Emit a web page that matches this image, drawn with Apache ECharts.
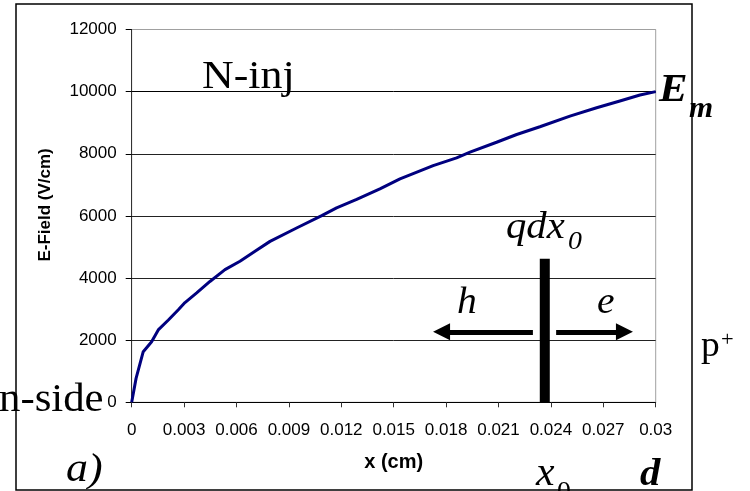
<!DOCTYPE html>
<html>
<head>
<meta charset="utf-8">
<style>
  html, body { margin: 0; padding: 0; background: #fff; }
  #chart { width: 750px; height: 491px; }
</style>
<script src="https://cdn.jsdelivr.net/npm/echarts@6/dist/echarts.min.js"></script>
</head>
<body>
<div id="chart"></div>
<script>
// Electric field across the depletion region, x in cm, E in V/cm
var positions = [0, 0.00025, 0.00066, 0.00114, 0.00152, 0.0021, 0.00267, 0.00305,
  0.00372, 0.00448, 0.00534, 0.0062, 0.00706, 0.00792, 0.00944, 0.01088, 0.01173,
  0.01288, 0.01421, 0.01536, 0.01726, 0.0186, 0.01937, 0.02089, 0.02204, 0.02337,
  0.02509, 0.02662, 0.02795, 0.0291, 0.03];
var fieldValues = [0, 770, 1630, 1950, 2330, 2650, 2980, 3210,
  3520, 3890, 4270, 4540, 4860, 5180, 5610, 6010, 6260,
  6530, 6870, 7190, 7620, 7870, 8050, 8370, 8620, 8870,
  9210, 9480, 9700, 9890, 10000];

// Charge sheet q dx0 at x0 and the drift directions of holes and electrons
var chargePosition = 0.02365;
var chargeBarTop = 4620;
var driftLevel = 2268;
var holeArrow = [0.02297, 0.01774];
var electronArrow = [0.0243, 0.02821];

var xTicks = { min: 0, max: 0.03, step: 0.003 };
var yTicks = { min: 0, max: 12000, step: 2000 };

var curve = positions.map(function (x, i) { return [x, fieldValues[i]]; });

var serif = '"Liberation Serif", "Times New Roman", serif';
var sans = '"Liberation Sans", Arial, sans-serif';

// Text placed by its left edge and baseline, slightly widened
function label(text, left, baseline, size, style, weight) {
  return {
    type: 'text',
    x: left,
    y: baseline - 0.305 * size,
    scaleX: 1.07,
    silent: true,
    style: {
      text: text,
      x: 0, y: 0,
      fill: '#000',
      font: (style || 'normal') + ' ' + (weight || 'normal') + ' ' + size + 'px ' + serif,
      align: 'left',
      verticalAlign: 'middle'
    },
    z: 100
  };
}

var chart = echarts.init(document.getElementById('chart'), null, { renderer: 'canvas' });

chart.setOption({
  animation: false,
  backgroundColor: '#fff',
  grid: {
    left: 131.7, right: 94.3, top: 29.5, bottom: 88.7,
    show: true, borderColor: '#a0a0a0', borderWidth: 1,
    backgroundColor: 'transparent'
  },
  xAxis: {
    type: 'value',
    min: xTicks.min, max: xTicks.max, interval: xTicks.step,
    name: 'x (cm)',
    nameLocation: 'middle',
    nameGap: 50,
    nameTextStyle: { fontFamily: sans, fontSize: 20, fontWeight: 'bold', color: '#000' },
    axisLine: { lineStyle: { color: '#000', width: 1 } },
    axisTick: { show: true, length: 5, inside: false, lineStyle: { color: '#333' } },
    axisLabel: {
      margin: 20, color: '#000', fontFamily: sans, fontSize: 17,
      formatter: function (v) { return String(+v.toFixed(3)); }
    },
    splitLine: { show: false }
  },
  yAxis: {
    type: 'value',
    min: yTicks.min, max: yTicks.max, interval: yTicks.step,
    name: 'E-Field (V/cm)',
    nameLocation: 'middle',
    nameGap: 78,
    nameTextStyle: { fontFamily: sans, fontSize: 17, fontWeight: 'bold', color: '#000', padding: [0, 0, 0, 22] },
    axisLine: { show: true, lineStyle: { color: '#333', width: 1 } },
    axisTick: { show: true, length: 6, inside: false, lineStyle: { color: '#000' } },
    axisLabel: {
      margin: 15, color: '#000', fontFamily: sans, fontSize: 17,
      formatter: function (v) { return String(v); }
    },
    splitLine: {
      show: true,
      lineStyle: { color: ['#000', '#222', '#222', '#222', '#222', '#000', '#a0a0a0'], width: 1 }
    }
  },
  series: [
    {
      name: 'E-Field',
      type: 'line',
      data: curve,
      showSymbol: false,
      symbol: 'none',
      lineStyle: { color: '#00007f', width: 3 },
      silent: true,
      z: 3
    },
    {
      name: 'charge',
      type: 'line',
      data: [[chargePosition, 0], [chargePosition, chargeBarTop]],
      symbol: 'none',
      lineStyle: { color: '#000', width: 10, cap: 'butt' },
      silent: true,
      z: 4,
      markLine: {
        silent: true,
        symbol: ['none', 'triangle'],
        symbolSize: [17, 17],
        label: { show: false },
        lineStyle: { color: '#000', width: 5, type: 'solid' },
        emphasis: { disabled: true },
        data: [
          [{ coord: [holeArrow[0], driftLevel] }, { coord: [holeArrow[1], driftLevel] }],
          [{ coord: [electronArrow[0], driftLevel] }, { coord: [electronArrow[1], driftLevel] }]
        ]
      }
    }
  ],
  graphic: [
    {
      type: 'rect',
      x: 16, y: 4,
      shape: { x: 0, y: 0, width: 676, height: 486 },
      style: { fill: 'none', stroke: '#000', lineWidth: 1.5 },
      silent: true,
      z: 90
    },
    label('N-inj', 202, 90, 41),
    label('E', 659, 103, 40, 'italic', 'bold'),
    label('m', 689, 118, 29, 'italic', 'bold'),
    label('qdx', 506, 240, 38, 'italic'),
    label('0', 568, 250, 26, 'italic'),
    label('h', 457, 315, 37, 'italic'),
    label('e', 597, 315, 37, 'italic'),
    label('p', 701, 357, 35),
    label('+', 721, 347, 21),
    label('n-side', -1, 413, 40),
    label('a)', 66, 483, 41, 'italic'),
    label('x', 536, 487, 39, 'italic'),
    label('0', 557, 500, 26),
    label('d', 640, 487, 38, 'italic', 'bold')
  ]
});
</script>
</body>
</html>
